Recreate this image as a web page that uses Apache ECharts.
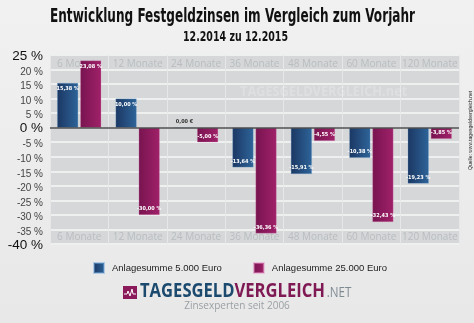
<!DOCTYPE html>
<html>
<head>
<meta charset="utf-8">
<script src="https://cdn.jsdelivr.net/npm/echarts@6/dist/echarts.min.js"></script>
<style>
html,body{margin:0;padding:0;background:#ececec;}
#chart{width:474px;height:323px;}
</style>
</head>
<body>
<div id="chart"></div>
<script>
// Laufzeiten und Zinsänderung 12.2014 -> 12.2015 (in Prozent)
const categories = ['6 Monate', '12 Monate', '24 Monate', '36 Monate', '48 Monate', '60 Monate', '120 Monate'];
const seriesNames = ['Anlagesumme 5.000 Euro', 'Anlagesumme 25.000 Euro'];
const values5000 = [15.38, 10.00, 0.00, -13.64, -15.91, -10.38, -19.23];
const values25000 = [23.08, -30.00, -5.00, -36.36, -4.55, -32.43, -3.85];
const yTicks = { min: -40, max: 25, interval: 5 };
const bigTicks = [25, 0, -40];

const chart = echarts.init(document.getElementById('chart'), null, { renderer: 'canvas' });

function fmt(v) { return v.toFixed(2).replace('.', ','); }

function barData(vals) {
  return vals.map(v => {
    if (v === 0) {
      return { value: v, label: { show: true, position: 'top', distance: 3, color: '#333', formatter: fmt(v) + ' €' } };
    }
    return { value: v, label: { show: true, position: v > 0 ? 'insideTop' : 'insideBottom', distance: 3, color: '#fff' } };
  });
}

const blue = new echarts.graphic.LinearGradient(0, 0, 1, 0, [
  { offset: 0, color: '#1b3763' }, { offset: 1, color: '#2e6499' }]);
const pink = new echarts.graphic.LinearGradient(0, 0, 1, 0, [
  { offset: 0, color: '#781450' }, { offset: 1, color: '#a02169' }]);

// Measure text to fit condensed headings into a given width
const mctx = document.createElement('canvas').getContext('2d');
function textWidth(font, txt) { mctx.font = font; return mctx.measureText(txt).width; }

const titleTxt = 'Entwicklung Festgeldzinsen im Vergleich zum Vorjahr';
const titleFont = 'bold 19px "DejaVu Sans Condensed"';
const titleScale = 365 / textWidth(titleFont, titleTxt);
const subTxt = '12.2014 zu 12.2015';
const subFont = 'bold 14px "DejaVu Sans Condensed"';
const subScale = 105 / textWidth(subFont, subTxt);

const logoFont = 'bold 20px "Open Sans"';
const logoA = 'TAGESGELD', logoB = 'VERGLEICH', logoC = '.NET';
const wA = textWidth(logoFont, logoA), wB = textWidth(logoFont, logoB);
const logoScale = 185 / (wA + wB);

const barLabel = { fontSize: 5.5, fontWeight: 'bold', fontFamily: 'DejaVu Sans Condensed', formatter: p => fmt(p.value) + ' %' };

const option = {
  backgroundColor: {
    type: 'linear', x: 0, y: 0, x2: 0, y2: 1,
    colorStops: [{ offset: 0, color: '#f1f1f1' }, { offset: 1, color: '#e8e8e8' }]
  },
  animation: false,
  grid: { left: 50, right: 15, top: 55, bottom: 79, show: true, backgroundColor: '#d5d7d8', borderWidth: 0 },
  legend: {
    data: seriesNames,
    left: 93, top: 262, padding: 0,
    itemWidth: 10, itemHeight: 10, itemGap: 31,
    icon: 'rect',
    textStyle: { fontFamily: 'Liberation Sans', fontSize: 9.5, color: '#222', padding: [0, 0, 0, 3] }
  },
  xAxis: [
    {
      type: 'category', data: categories, position: 'bottom',
      axisLine: { show: false }, axisTick: { show: false },
      axisLabel: { inside: true, interval: 0, margin: 2, color: '#b9bdc0', fontFamily: 'Open Sans', fontSize: 10 },
      splitLine: { show: true, lineStyle: { color: '#e6e7e8', width: 1 } }
    },
    {
      type: 'category', data: categories, position: 'top',
      axisLine: { show: false }, axisTick: { show: false },
      axisLabel: { inside: true, interval: 0, margin: 4, color: '#b9bdc0', fontFamily: 'Open Sans', fontSize: 10 }
    }
  ],
  yAxis: {
    type: 'value', min: yTicks.min, max: yTicks.max, interval: yTicks.interval,
    axisLine: { show: false }, axisTick: { show: false },
    splitLine: { lineStyle: { color: '#eef0f0', width: 2 } },
    axisLabel: {
      margin: 7,
      fontFamily: 'Liberation Sans',
      formatter: v => bigTicks.includes(v) ? '{b|' + v + ' %}' : '{s|' + v + ' %}',
      rich: {
        b: { fontSize: 13.5, color: '#111', fontFamily: 'Liberation Sans', padding: [2, 0, 0, 0] },
        s: { fontSize: 10, color: '#444', fontFamily: 'Liberation Sans', padding: [5, 0, 0, 0] }
      }
    }
  },
  series: [
    {
      name: seriesNames[0], type: 'bar', data: barData(values5000),
      barWidth: 21, barGap: '10%',
      itemStyle: { color: blue, borderColor: 'rgba(120,170,220,0.5)', borderWidth: 0.5 },
      label: barLabel,
      markLine: {
        silent: true, symbol: 'none', label: { show: false },
        lineStyle: { color: '#4a4a4a', width: 1.5, type: 'solid' },
        data: [{ yAxis: 0 }]
      }
    },
    {
      name: seriesNames[1], type: 'bar', data: barData(values25000),
      barWidth: 21, barGap: '10%',
      itemStyle: { color: pink, borderColor: 'rgba(230,150,200,0.5)', borderWidth: 0.5 },
      label: barLabel
    }
  ],
  graphic: [
    {
      type: 'text', x: 50, y: 8,
      style: { text: titleTxt, font: titleFont, fill: '#111' },
      scaleX: titleScale
    },
    {
      type: 'text', x: 183, y: 30,
      style: { text: subTxt, font: subFont, fill: '#111' },
      scaleX: subScale
    },
    {
      // faint watermark in the plot
      type: 'text', x: 240, y: 84,
      style: { text: 'TAGESGELDVERGLEICH.net', font: 'bold 15px "Open Sans"', fill: 'rgba(255,255,255,0.22)' },
      scaleX: 0.85, z: 1
    },
    {
      type: 'text', x: 468, y: 170, rotation: Math.PI / 2,
      style: { text: 'Quelle: www.tagesgeldvergleich.net', font: '5px "Liberation Sans"', fill: '#222' }
    },
    {
      // logo icon
      type: 'group', x: 123, y: 286,
      children: [
        { type: 'rect', shape: { x: 0, y: 0, width: 14, height: 13 }, style: { fill: '#8a1a5a' } },
        { type: 'polyline', shape: { points: [[1, 8], [4, 8], [5, 5], [7, 10], [9, 3], [10, 8], [13, 8]] },
          style: { stroke: '#fff', lineWidth: 1, fill: null } }
      ]
    },
    {
      type: 'text', x: 140, y: 281, scaleX: logoScale,
      style: {
        text: '{a|' + logoA + '}{b|' + logoB + '}{c|' + logoC + '}',
        rich: {
          a: { font: logoFont, fill: '#1c4a6e' },
          b: { font: logoFont, fill: '#801a55' },
          c: { font: '14px "Open Sans"', fill: '#7f8b93', padding: [4, 0, 0, 2] }
        }
      }
    },
    {
      type: 'text', left: 'center', top: 301,
      style: { text: 'Zinsexperten seit 2006', font: '10px "Open Sans"', fill: '#9aa0a4' }
    }
  ]
};
chart.setOption(option);
</script>
</body>
</html>
